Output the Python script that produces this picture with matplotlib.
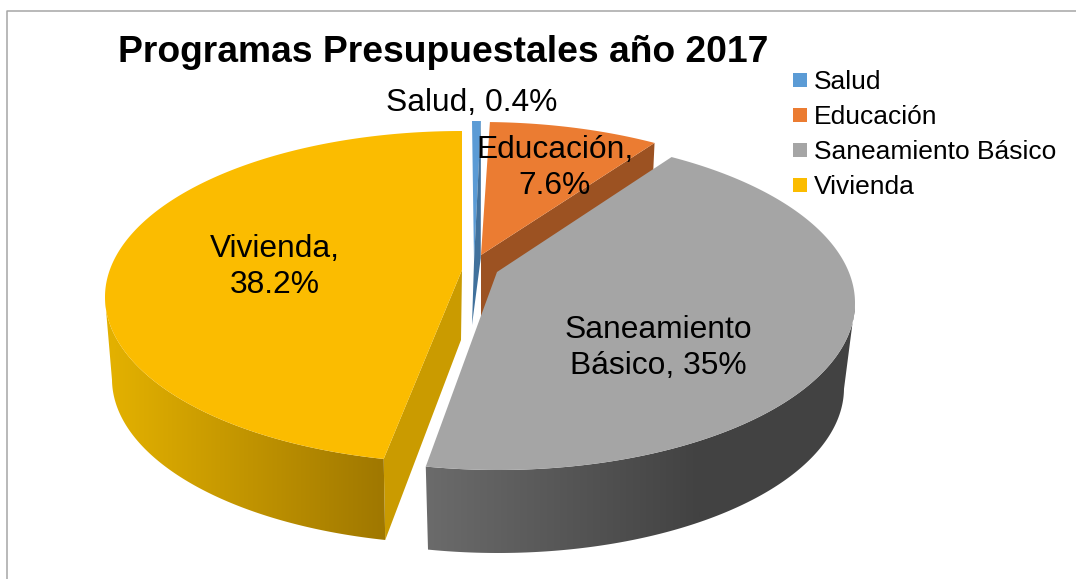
# -*- coding: utf-8 -*-
# Exploded 3-D look pie, Excel style. Slices are drawn by hand in pixel space because
# matplotlib has no 3-D pie; angles still come from the values (normalised on their sum).
import numpy as np
import matplotlib
matplotlib.use('Agg')
import matplotlib.pyplot as plt
from matplotlib.colors import LinearSegmentedColormap
from matplotlib.patches import Polygon, Rectangle

plt.rcParams['font.family'] = ['Liberation Sans', 'DejaVu Sans']

categories = ['Salud', 'Educación', 'Saneamiento Básico', 'Vivienda']
values = [0.4, 7.6, 35, 38.2]
title = 'Programas Presupuestales año 2017'

TOP = ['#5b9bd5', '#eb7c32', '#a5a5a5', '#fbbc00']
CUT = ['#41719c', '#9c5222', '#6b6b6b', '#ca9b00']
# x0, y0, rx, ry of top ellipse, then bottom ellipse, then apex top and bottom
GEO = [(472, 287, 357, 166, 472, 423, 350, 165, (474, 262), (472, 325)),
       (481, 288, 357, 166, 481, 360, 350, 165, (481, 255), (481, 320)),
       (498, 303, 357, 167, 498, 388, 346, 165, (497, 272), (497, 345)),
       (462, 297, 357, 166, 462, 379, 350, 165, (462, 270), (461, 340))]
END_TRIM = [0, 0, -1, 0]  # degrees, gray slice stops a touch short of vivienda
LABEL_POS = [(472, 103), (555, 168), (658, 348), (275, 267)]
LABEL_TXT = ['{}, {:g}%', '{},\n{:g}%', 'Saneamiento\nBásico, {1:g}%', '{},\n{:g}%']


def warp(t):
    # perspective squeezes the far side of the disc
    return t - 11 * np.sin(np.radians(t))


def rim(t, x0, y0, rx, ry):
    r = np.radians(t)
    return np.column_stack([x0 + rx * np.sin(r), y0 - ry * np.cos(r)])


fig = plt.figure(figsize=(10.76, 5.79), dpi=100)
ax = fig.add_axes([0, 0, 1, 1])

# chart frame, only top and left survive the crop
ax.plot([6.5, 6.5, 1076], [579, 10.5, 10.5], color='#a6a6a6', lw=1.1, zorder=1)

edges = np.cumsum([0] + values) / np.sum(values) * 360
ramps = {2: (['#6b6b6b', '#424242'], 427, 700),
         3: (['#e2b000', '#a07800'], 115, 382)}

for i in [0, 1, 3, 2]:  # gray sits over the small slices
    g = GEO[i]
    a, b = warp(edges[i]), warp(edges[i + 1]) + END_TRIM[i]
    t = np.linspace(a, b, 240)
    top = rim(t, *g[:4]); bot = rim(t, *g[4:8])
    z = 2 + 2 * (i == 2)
    # cut wall on the side of the wedge that faces us
    if i == 3:
        wall = [g[8], top[0], bot[0], g[9]]
    elif i == 2:
        wall = None
    else:
        wall = [g[8], top[-1], bot[-1], g[9]]
    ax.add_patch(Polygon(np.vstack([[g[8]], top]), closed=True, fc=TOP[i], ec='none', zorder=z + 0.5))
    if wall is not None:
        ax.add_patch(Polygon(wall, closed=True, fc=CUT[i], ec='none', zorder=z + (i == 0)))
    if i in ramps:
        keep = (t >= 90) & (t <= 270)
        outline = np.vstack([top[keep], bot[keep][::-1]])
        cols, x0, x1 = ramps[i]
        patch = Polygon(outline, closed=True, fc='none', ec='none', transform=ax.transData)
        ax.add_patch(patch)
        cmap = LinearSegmentedColormap.from_list('wall', cols)
        im = ax.imshow(np.linspace(0, 1, 256)[None, :], cmap=cmap, aspect='auto',
                       extent=(x0, x1, 579, 0), zorder=z)
        # pad the ramp ends, outline reaches past the gradient stops
        im.set_clip_path(patch)
        ax.imshow(np.zeros((1, 1)), cmap=LinearSegmentedColormap.from_list('l', [cols[0], cols[0]]), aspect='auto',
                  extent=(0, x0, 579, 0), zorder=z).set_clip_path(patch)
        ax.imshow(np.zeros((1, 1)), cmap=LinearSegmentedColormap.from_list('r', [cols[1], cols[1]]), aspect='auto',
                  extent=(x1, 1076, 579, 0), zorder=z).set_clip_path(patch)

for c, v, (lx, ly), fmt in zip(categories, values, LABEL_POS, LABEL_TXT):
    ax.text(lx, ly, fmt.format(c, v), ha='center', va='center', fontsize=22.9, linespacing=1.22, color='k', zorder=6)

ax.text(443, 53, title, ha='center', va='center', fontsize=26.8, fontweight='bold', color='k', zorder=6)

# legend by hand so the swatches land on the same pixels
for i, c in enumerate(categories):
    yy = 80 + 35 * i
    ax.add_patch(Rectangle((793, yy - 7), 14, 14, fc=TOP[i], ec='none', zorder=6))
    ax.text(814, yy + 2, c, ha='left', va='center', fontsize=19, color='k', zorder=6)

ax.set_xlim(0, 1076); ax.set_ylim(579, 0); ax.axis('off')
fig.savefig('out.png', dpi=100)
